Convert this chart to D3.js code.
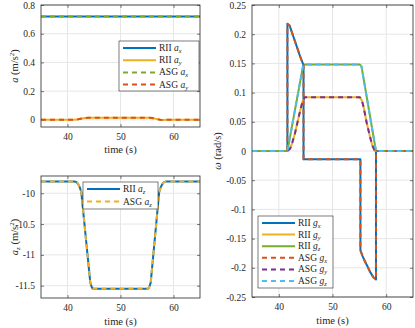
<!DOCTYPE html>
<html>
<head>
<meta charset="utf-8">
<script src="https://cdn.jsdelivr.net/npm/d3@7"></script>
<style>
  body { margin: 0; background: #fff; }
  svg { display: block; }
  svg text { font-family: "Liberation Serif", "Times New Roman", Times, serif !important; fill: #262626; }
</style>
</head>
<body>
<svg id="chart" width="415" height="328" font-family="Liberation Serif"></svg>
<script>
// Time axis and tick labels
const X_DOMAIN = [35, 65];
const X_TICKS = [40, 50, 60];

// Linear acceleration a_x, a_y (m/s^2)
const T_AX = [35, 65];
const RII_AX = [0.72, 0.72];
const ASG_AX = [0.72, 0.72];
const T_AY = [35, 41.3, 42.0, 42.7, 43.3, 43.9, 55.6, 56.2, 56.9, 57.5, 58.0, 58.8, 65];
const RII_AY = [0, 0, 0.004, 0.009, 0.013, 0.014, 0.014, 0.011, 0.005, 0.0, -0.002, 0, 0];
const ASG_AY = [0, 0, 0.004, 0.009, 0.013, 0.014, 0.014, 0.011, 0.005, 0.0, -0.002, 0, 0];
const A_TICKS = [0, 0.2, 0.4, 0.6, 0.8];

// Vertical acceleration a_z (m/s^2)
const T_AZ = [35, 41.3, 41.7, 42.0, 42.3, 42.6, 44.3, 44.6, 44.8, 55.2, 55.4, 55.7, 57.3, 57.6, 57.9, 58.2, 58.6, 65];
const RII_AZ = [-9.81, -9.81, -9.82, -9.85, -9.9, -9.98, -11.45, -11.53, -11.55, -11.55, -11.53, -11.45, -9.98, -9.9, -9.85, -9.82, -9.81, -9.81];
const ASG_AZ = [-9.81, -9.81, -9.82, -9.85, -9.9, -9.98, -11.45, -11.53, -11.55, -11.55, -11.53, -11.45, -9.98, -9.9, -9.85, -9.82, -9.81, -9.81];
const AZ_TICKS = [-11.5, -11, -10.5, -10];

// Angular rate g_x, g_y, g_z (rad/s)
const T_GX = [35, 41.6, 41.6, 42.0, 42.7, 43.3, 44.0, 44.6, 44.6, 55.2, 55.2, 55.6, 56.1, 56.6, 57.0, 57.6, 58.1, 58.1, 65];
const RII_GX = [0, 0, 0.218, 0.215, 0.196, 0.180, 0.161, 0.147, -0.014, -0.014, -0.170, -0.180, -0.190, -0.199, -0.207, -0.216, -0.220, 0, 0];
const ASG_GX = [0, 0, 0.218, 0.215, 0.196, 0.180, 0.161, 0.147, -0.014, -0.014, -0.170, -0.180, -0.190, -0.199, -0.207, -0.216, -0.220, 0, 0];
const T_GY = [35, 41.6, 42.1, 42.5, 43.0, 43.5, 44.0, 44.4, 44.8, 55.1, 55.5, 55.8, 56.4, 57.0, 57.4, 57.9, 65];
const RII_GY = [0, 0, 0.004, 0.014, 0.030, 0.050, 0.070, 0.084, 0.092, 0.092, 0.086, 0.075, 0.047, 0.024, 0.010, 0, 0];
const ASG_GY = [0, 0, 0.004, 0.014, 0.030, 0.050, 0.070, 0.084, 0.092, 0.092, 0.086, 0.075, 0.047, 0.024, 0.010, 0, 0];
const T_GZ = [35, 41.6, 44.5, 44.8, 55.1, 55.4, 58.1, 65];
const RII_GZ = [0, 0, 0.145, 0.148, 0.148, 0.145, 0, 0];
const ASG_GZ = [0, 0, 0.145, 0.148, 0.148, 0.145, 0, 0];
const G_TICKS = [-0.25, -0.2, -0.15, -0.1, -0.05, 0, 0.05, 0.1, 0.15, 0.2, 0.25];

// MATLAB default colours
const C = {
  blue: "#0072BD", orange: "#D95319", yellow: "#EDB120",
  purple: "#7E2F8E", green: "#77AC30", cyan: "#4DBEEE",
};

const FONT = "Liberation Serif";
const svg = d3.select("#chart");

function zip(ts, vs) {
  return ts.map((t, i) => [t, vs[i]]);
}

// label such as "RII a_x": upright prefix, italic symbol, italic subscript
function mathLabel(text, prefix, sym, sub) {
  if (prefix) text.append("tspan").text(prefix + " ");
  text.append("tspan").attr("font-style", "italic").text(sym);
  text.append("tspan").attr("font-style", "italic")
    .attr("font-size", "6.5px").attr("dy", 2).text(sub);
}

function drawPanel(p) {
  const x = d3.scaleLinear().domain(X_DOMAIN).range([p.left, p.right]);
  const y = d3.scaleLinear().domain(p.yDomain).range([p.bottom, p.top]);
  const g = svg.append("g");

  // grid
  g.append("g").selectAll("line").data(X_TICKS).join("line")
    .attr("x1", d => x(d)).attr("x2", d => x(d))
    .attr("y1", p.top).attr("y2", p.bottom)
    .attr("stroke", "#e6e6e6").attr("stroke-width", 1);
  g.append("g").selectAll("line").data(p.yTicks).join("line")
    .attr("x1", p.left).attr("x2", p.right)
    .attr("y1", d => y(d)).attr("y2", d => y(d))
    .attr("stroke", "#e6e6e6").attr("stroke-width", 1);

  // axes: ticks inward on all four sides
  const fmt = d => String(d);
  const axB = g.append("g").attr("transform", `translate(0,${p.bottom})`)
    .call(d3.axisBottom(x).tickValues(X_TICKS).tickFormat(fmt).tickSizeInner(-3).tickSizeOuter(0).tickPadding(6));
  const axT = g.append("g").attr("transform", `translate(0,${p.top})`)
    .call(d3.axisTop(x).tickValues(X_TICKS).tickFormat("").tickSizeInner(-3).tickSizeOuter(0));
  const axL = g.append("g").attr("transform", `translate(${p.left},0)`)
    .call(d3.axisLeft(y).tickValues(p.yTicks).tickFormat(fmt).tickSizeInner(-3).tickSizeOuter(0).tickPadding(6));
  const axR = g.append("g").attr("transform", `translate(${p.right},0)`)
    .call(d3.axisRight(y).tickValues(p.yTicks).tickFormat("").tickSizeInner(-3).tickSizeOuter(0));
  [axB, axT, axL, axR].forEach(a => {
    a.attr("font-family", FONT).attr("font-size", 9.5);
    a.select(".domain").remove();
    a.selectAll("line").attr("stroke", "#262626").attr("stroke-width", 0.6);
    a.selectAll("text").attr("fill", "#262626");
  });

  // lines
  const line = d3.line().x(d => x(d[0])).y(d => y(d[1]));
  const clipId = "clip" + p.id;
  svg.append("clipPath").attr("id", clipId).append("rect")
    .attr("x", p.left).attr("y", p.top - 1)
    .attr("width", p.right - p.left).attr("height", p.bottom - p.top + 2);
  const lg = g.append("g").attr("clip-path", `url(#${clipId})`);
  p.series.forEach(s => {
    lg.append("path").datum(zip(s.t, s.v))
      .attr("d", line).attr("fill", "none")
      .attr("stroke", s.color).attr("stroke-width", 2)
      .attr("stroke-dasharray", s.dashed ? "5,4" : null)
      .attr("stroke-linejoin", "round");
  });

  // box
  g.append("rect").attr("x", p.left).attr("y", p.top)
    .attr("width", p.right - p.left).attr("height", p.bottom - p.top)
    .attr("fill", "none").attr("stroke", "#262626").attr("stroke-width", 0.8);

  // x label
  g.append("text").attr("x", (p.left + p.right) / 2).attr("y", p.xLabelY)
    .attr("text-anchor", "middle").attr("font-size", "10.5px").text("time (s)");

  // y label
  const yl = g.append("text")
    .attr("transform", `translate(${p.yLabelX},${(p.top + p.bottom) / 2}) rotate(-90)`)
    .attr("text-anchor", "middle").attr("font-size", "10.5px");
  p.yLabel(yl);

  // legend
  const L = p.legend;
  const leg = g.append("g");
  leg.append("rect").attr("x", L.x).attr("y", L.y).attr("width", L.w).attr("height", L.h)
    .attr("fill", "#fff").attr("stroke", "#262626").attr("stroke-width", 0.6);
  p.series.forEach((s, i) => {
    const yy = L.y + L.first + i * L.step;
    leg.append("line").attr("x1", L.x + 4).attr("x2", L.x + 37)
      .attr("y1", yy).attr("y2", yy)
      .attr("stroke", s.color).attr("stroke-width", 2)
      .attr("stroke-dasharray", s.dashed ? "5,4" : null);
    const t = leg.append("text").attr("x", L.x + 40).attr("y", yy + 3).attr("font-size", "9.5px");
    mathLabel(t, s.prefix, s.sym, s.sub);
  });
}

function unitLabel(sym, sub) {
  return t => {
    t.append("tspan").attr("font-style", "italic").text(sym);
    if (sub) t.append("tspan").attr("font-style", "italic").attr("font-size", "7px").attr("dy", 2).text(sub);
    t.append("tspan").attr("dy", sub ? -2 : 0).text(" (m/s");
    t.append("tspan").attr("font-size", "7px").attr("dy", -4).text("2");
    t.append("tspan").attr("dy", 4).text(")");
  };
}

drawPanel({
  id: "a", left: 41, right: 200, top: 5, bottom: 127,
  yDomain: [-0.05, 0.8], yTicks: A_TICKS, xLabelY: 153, yLabelX: 18,
  yLabel: unitLabel("a", null),
  legend: { x: 119, y: 41, w: 80, h: 50, first: 7, step: 12.2 },
  series: [
    { t: T_AX, v: RII_AX, color: C.blue, prefix: "RII", sym: "a", sub: "x" },
    { t: T_AY, v: RII_AY, color: C.yellow, prefix: "RII", sym: "a", sub: "y" },
    { t: T_AX, v: ASG_AX, color: C.green, dashed: true, prefix: "ASG", sym: "a", sub: "x" },
    { t: T_AY, v: ASG_AY, color: C.orange, dashed: true, prefix: "ASG", sym: "a", sub: "y" },
  ],
});

drawPanel({
  id: "az", left: 41, right: 200, top: 176, bottom: 298,
  yDomain: [-11.7, -9.72], yTicks: AZ_TICKS, xLabelY: 325, yLabelX: 18,
  yLabel: unitLabel("a", "z"),
  legend: { x: 83, y: 182, w: 75, h: 27, first: 7, step: 12.5 },
  series: [
    { t: T_AZ, v: RII_AZ, color: C.blue, prefix: "RII", sym: "a", sub: "z" },
    { t: T_AZ, v: ASG_AZ, color: C.yellow, dashed: true, prefix: "ASG", sym: "a", sub: "z" },
  ],
});

drawPanel({
  id: "g", left: 252, right: 413, top: 5, bottom: 297,
  yDomain: [-0.25, 0.25], yTicks: G_TICKS, xLabelY: 324, yLabelX: 221,
  yLabel: t => {
    t.append("tspan").attr("font-style", "italic").text("ω");
    t.append("tspan").text(" (rad/s)");
  },
  legend: { x: 258, y: 216, w: 75, h: 72, first: 7, step: 11.6 },
  series: [
    { t: T_GX, v: RII_GX, color: C.blue, prefix: "RII", sym: "g", sub: "x" },
    { t: T_GY, v: RII_GY, color: C.yellow, prefix: "RII", sym: "g", sub: "y" },
    { t: T_GZ, v: RII_GZ, color: C.green, prefix: "RII", sym: "g", sub: "z" },
    { t: T_GX, v: ASG_GX, color: C.orange, dashed: true, prefix: "ASG", sym: "g", sub: "x" },
    { t: T_GY, v: ASG_GY, color: C.purple, dashed: true, prefix: "ASG", sym: "g", sub: "y" },
    { t: T_GZ, v: ASG_GZ, color: C.cyan, dashed: true, prefix: "ASG", sym: "g", sub: "z" },
  ],
});
</script>
</body>
</html>
